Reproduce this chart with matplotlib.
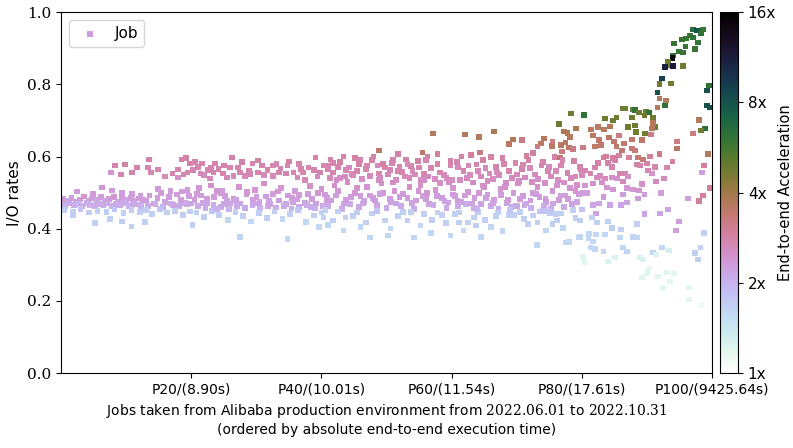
import matplotlib.pyplot as plt
from matplotlib.colors import LogNorm

plt.rcParams['font.family'] = 'DejaVu Sans'
plt.rcParams['mathtext.fontset'] = 'dejavuserif'

# x tick positions are job percentiles (ordered by end-to-end time)
tick_pos = [20, 40, 60, 80, 100]
tick_labels = ["P20/(8.90s)", "P40/(10.01s)", "P60/(11.54s)", "P80/(17.61s)", "P100/(9425.64s)"]
y_ticks = [0.0, 0.2, 0.4, 0.6, 0.8, 1.0]
cbar_ticks = [1, 2, 4, 8, 16]
cbar_labels = ["1x", "2x", "4x", "8x", "16x"]

# job percentile (x), I/O rate (y), end-to-end acceleration (colour)
job_pct = [
    0.3, 0.9, 1.6, 2.2, 2.9, 3.5, 4.2, 4.8, 5.5, 6.1,
    6.8, 7.4, 8.1, 8.7, 9.4, 10.0, 10.7, 11.3, 12.0, 12.6,
    0.1, 0.7, 1.3, 2.0, 2.6, 3.2, 3.9, 4.5, 5.2, 5.8,
    6.5, 7.1, 7.8, 8.4, 9.1, 9.7, 10.4, 11.0, 11.7, 12.3,
    0.5, 1.8, 3.0, 4.3, 5.6, 7.0, 8.2, 9.6, 10.8, 12.1,
    2.5, 4.9, 6.3, 7.8, 9.4, 10.9, 12.2, 5.2, 9.4, 10.8,
    7.7, 14.9, 16.8, 18.0, 18.6, 19.4, 12.9, 20.2, 1.8, 7.5,
    13.0, 13.6, 14.2, 14.8, 15.4, 16.0, 16.6, 17.2, 17.8, 18.4,
    19.0, 19.6, 13.3, 14.5, 15.7, 16.9, 18.1, 19.3, 13.1, 14.0,
    15.2, 16.3, 17.5, 18.7, 19.8, 8.3, 9.8, 9.2, 10.9, 11.7,
    13.5, 13.4, 13.8, 14.9, 16.0, 17.1, 18.5, 19.2, 18.0, 18.8,
    19.4, 19.8,
    # P20 - P40
    20.6, 21.7, 20.3, 21.4, 22.6, 23.7, 23.4, 24.9, 26.3, 26.0,
    27.2, 27.5, 26.5, 28.3, 29.4, 30.3, 30.9, 30.2, 31.7, 32.5,
    32.6, 33.7, 34.8, 34.5, 35.7, 36.3, 37.2, 38.0, 39.1, 38.8,
    39.8, 37.5, 25.5, 22.9, 21.0, 24.2, 28.9, 33.1, 36.9, 40.3,
    22.0, 23.0, 25.0, 27.8, 29.0, 31.2, 33.5, 35.0, 36.6, 39.4,
    20.5, 21.5, 22.5, 23.5, 24.5, 25.5, 26.5, 27.5, 28.5, 29.5,
    30.5, 31.5, 32.5, 33.5, 34.5, 35.5, 36.5, 37.5, 38.5, 39.5,
    21.0, 22.2, 23.4, 24.6, 25.8, 27.0, 28.2, 29.4, 30.6, 31.8,
    33.0, 34.2, 35.4, 36.6, 37.8, 39.0, 40.2, 40.8, 20.0, 26.0,
    21.2, 23.0, 24.8, 27.3, 29.8, 31.2, 33.8, 35.9, 38.2, 40.0,
    20.8, 22.0, 23.2, 24.3, 25.6, 26.8, 28.0, 29.2, 30.4, 31.6,
    32.8, 34.0, 35.2, 36.4, 37.6, 38.8, 40.0, 27.5, 34.8, 39.6,
    20.9, 22.4, 23.9, 25.2, 26.9, 28.6, 30.0, 31.9, 33.3, 34.9,
    36.2, 37.9, 39.2, 21.8, 25.0, 29.9, 32.1, 35.6, 38.4, 24.0,
    # P40 - P60
    40.8, 41.8, 42.8, 43.8, 44.8, 45.8, 46.8, 47.8, 48.8, 49.8,
    50.8, 51.8, 52.8, 53.8, 54.8, 55.8, 56.8, 57.8, 58.8, 59.8,
    41.3, 42.3, 43.6, 44.6, 46.2, 47.4, 49.0, 50.2, 51.4, 52.4,
    53.5, 54.4, 55.3, 56.4, 57.4, 58.2, 59.2, 60.0, 43.4, 48.0,
    51.8, 57.8, 56.3, 59.8, 41.4, 57.1, 48.8, 55.5, 45.2, 53.0,
    41.0, 42.5, 44.2, 45.5, 47.0, 49.4, 50.5, 52.0, 54.0, 55.0,
    40.5, 41.5, 42.5, 43.5, 44.5, 45.5, 46.5, 47.5, 48.5, 49.5,
    50.5, 51.5, 52.5, 53.5, 54.5, 55.5, 56.5, 57.5, 58.5, 59.5,
    41.0, 42.0, 43.2, 44.4, 45.8, 47.0, 48.2, 49.2, 50.0, 51.2,
    52.2, 53.2, 54.2, 55.2, 56.2, 57.2, 58.2, 59.2, 60.2, 46.0,
    40.3, 41.8, 43.7, 44.8, 43.4, 46.8, 47.8, 49.8, 50.6, 51.8,
    53.2, 50.2, 55.2, 56.8, 59.1, 59.8, 54.2, 47.5, 40.6, 57.8,
    42.5, 45.5, 48.5, 52.5, 55.8, 58.5, 41.0, 46.0, 53.8, 57.0,
    40.9, 42.2, 43.8, 45.1, 46.4, 47.9, 49.0, 50.7, 52.0, 53.9,
    54.9, 56.0, 57.7, 58.9, 44.0, 48.8, 51.0, 55.7, 59.6, 42.9,
    41.8, 46.0, 48.6, 51.0, 53.2, 56.0,
    # P60 - P80
    60.8, 61.8, 62.8, 63.8, 64.8, 65.8, 66.8, 67.8, 68.8, 69.8,
    70.8, 71.8, 72.8, 73.8, 74.8, 75.8, 76.8, 77.8, 78.8, 79.8,
    61.3, 62.3, 63.3, 64.5, 65.5, 66.3, 67.3, 68.3, 69.3, 70.3,
    71.3, 72.3, 73.3, 74.3, 75.3, 76.3, 77.3, 78.3, 79.3, 80.0,
    62.0, 64.2, 66.5, 69.4, 68.8, 70.8, 74.2, 73.7, 75.4, 77.2,
    77.8, 79.1, 78.2, 76.8, 77.5, 78.0, 78.6, 76.9, 76.6, 64.3,
    73.2, 75.5, 78.3, 76.5, 80.3, 61.5, 63.0, 66.0, 71.5, 72.5,
    60.5, 61.5, 62.5, 63.5, 64.5, 65.5, 66.5, 67.5, 68.5, 69.5,
    70.5, 71.5, 72.5, 73.5, 74.5, 75.5, 76.5, 77.5, 78.5, 79.5,
    61.0, 62.2, 63.4, 64.8, 66.0, 67.2, 68.2, 69.2, 70.2, 71.2,
    72.2, 73.2, 74.2, 75.2, 76.2, 77.2, 78.2, 79.2, 60.2, 65.0,
    61.1, 61.1, 62.5, 63.4, 61.8, 63.7, 64.5, 65.1, 67.1, 68.8,
    69.6, 71.1, 71.7, 73.2, 73.5, 74.5, 75.1, 75.5, 76.2, 76.8,
    77.1, 77.5, 78.0, 73.1, 79.5, 78.6, 80.0, 80.2, 80.4, 66.0,
    60.5, 64.0, 66.8, 69.0, 70.5, 72.5, 74.0, 76.0, 79.0, 67.8,
    60.9, 62.0, 63.1, 64.2, 65.3, 66.4, 67.6, 68.7, 69.9, 71.0,
    72.1, 73.0, 74.4, 75.6, 76.7, 77.9, 79.0, 63.9, 70.0, 75.0,
    61.0, 62.6, 64.0, 65.2, 67.0, 68.0, 70.0, 71.0, 72.0, 74.0,
    75.0, 76.0, 77.0, 79.0,
    # P80 - P100
    97.1, 98.6, 97.7, 96.6, 96.0, 95.4, 97.1, 97.8, 98.3, 97.4,
    95.9, 94.2, 94.9, 95.5, 94.0, 93.9, 93.2, 93.5, 92.8, 94.0,
    95.5, 92.3, 91.9, 93.7, 91.6, 92.9, 91.9, 92.8, 91.6, 99.5,
    99.2, 99.2, 99.7, 98.9, 98.3, 98.0, 97.1, 99.4, 94.6, 94.6,
    98.8, 98.5, 99.7, 98.6, 98.0, 96.3, 94.9, 94.5, 98.8, 98.2,
    97.8, 97.4, 96.5, 96.5, 98.3, 83.6, 84.8, 85.3, 86.3, 86.6,
    87.9, 88.2, 87.7, 88.8, 89.9, 90.3, 89.6, 90.9, 88.2, 87.1,
    91.2, 89.7, 88.3, 90.8, 84.3, 83.4, 82.5, 81.4, 81.7, 82.6,
    84.2, 84.9, 86.5, 87.7, 89.2, 85.3, 82.0, 82.9, 86.2, 87.7,
    88.2, 88.6, 89.4, 90.9, 90.6, 85.7, 91.9, 83.7, 83.3, 84.8,
    85.7, 87.2, 84.0, 84.6, 85.1, 82.5, 82.0, 80.5, 81.3, 82.8,
    83.6, 82.3, 85.9, 86.6, 86.3, 88.5, 88.9, 90.0, 90.5, 90.2,
    91.2, 93.1, 93.9, 92.6, 91.4, 80.2, 79.7, 80.5, 80.8, 80.2,
    81.7, 83.1, 84.6, 85.4, 87.1, 83.9, 84.8, 86.9, 87.9, 88.8,
    89.2, 86.3, 89.6, 92.2, 90.8, 83.3, 81.7, 82.6, 84.3, 86.0,
    86.9, 88.6, 82.2, 92.0, 93.2, 89.6, 79.7, 81.6, 82.3, 84.0,
    84.6, 86.0, 88.5, 81.1, 82.2, 83.6, 85.9, 87.9, 88.5, 79.7,
    81.0, 81.7, 81.3, 82.0, 83.3, 86.3, 86.9, 90.9, 92.3, 84.0,
    85.1, 88.9, 89.4, 93.4, 91.4, 90.3, 90.0, 89.2, 91.7, 93.1,
    94.2, 93.5, 92.5,
]

io_rate = [
    .483, .478, .486, .475, .481, .489, .476, .484, .479, .487,
    .477, .483, .488, .474, .482, .479, .486, .477, .484, .480,
    .467, .463, .470, .465, .468, .462, .471, .466, .464, .469,
    .465, .470, .463, .468, .466, .471, .464, .469, .467, .462,
    .452, .448, .455, .445, .450, .447, .453, .444, .451, .446,
    .503, .497, .514, .506, .500, .497, .492, .415, .420, .406,
    .556, .511, .505, .542, .503, .508, .418, .410, .437, .428,
    .478, .492, .470, .485, .498, .474, .488, .466, .495, .480,
    .472, .490, .462, .468, .460, .470, .463, .467, .452, .440,
    .455, .445, .450, .438, .448, .575, .578, .550, .556, .570,
    .592, .570, .556, .564, .545, .553, .592, .595, .564, .550,
    .556, .581,
    # P20 - P40
    .584, .581, .562, .553, .562, .581, .556, .553, .597, .570,
    .570, .556, .547, .547, .581, .589, .575, .556, .562, .575,
    .547, .567, .575, .553, .556, .542, .556, .570, .597, .562,
    .556, .534, .542, .539, .572, .566, .560, .580, .566, .575,
    .549, .570, .575, .584, .552, .548, .556, .586, .580, .545,
    .480, .492, .472, .487, .499, .476, .484, .470, .495, .481,
    .474, .489, .497, .478, .468, .486, .493, .472, .483, .500,
    .462, .458, .465, .460, .455, .463, .458, .466, .457, .462,
    .459, .464, .456, .461, .466, .458, .463, .480, .470, .470,
    .512, .520, .505, .515, .508, .525, .513, .505, .519, .510,
    .445, .432, .450, .438, .425, .447, .435, .420, .443, .430,
    .448, .426, .440, .452, .418, .437, .445, .378, .372, .405,
    .497, .484, .505, .490, .479, .502, .488, .476, .503, .492,
    .481, .497, .470, .472, .468, .470, .468, .475, .460, .455,
    # P40 - P60
    .575, .556, .585, .562, .548, .580, .566, .590, .553, .570,
    .583, .560, .545, .574, .587, .552, .568, .580, .548, .576,
    .540, .535, .545, .552, .538, .547, .541, .550, .536, .557,
    .540, .550, .535, .545, .538, .556, .541, .535, .600, .600,
    .608, .608, .600, .589, .592, .664, .617, .611, .595, .592,
    .565, .572, .570, .560, .575, .580, .562, .572, .560, .570,
    .495, .478, .505, .470, .488, .512, .476, .492, .466, .500,
    .483, .470, .497, .515, .478, .490, .468, .508, .486, .473,
    .462, .520, .455, .468, .460, .515, .478, .525, .458, .505,
    .462, .485, .455, .520, .500, .465, .526, .458, .495, .490,
    .431, .423, .431, .436, .395, .417, .442, .423, .401, .436,
    .423, .381, .409, .389, .415, .381, .376, .376, .451, .445,
    .448, .445, .450, .446, .440, .438, .410, .405, .447, .425,
    .485, .492, .480, .500, .470, .485, .497, .475, .488, .472,
    .505, .483, .490, .476, .530, .535, .528, .535, .528, .540,
    .582, .590, .575, .590, .580, .590,
    # P60 - P80
    .585, .560, .548, .578, .590, .553, .572, .595, .560, .583,
    .565, .590, .550, .575, .560, .598, .575, .555, .588, .565,
    .535, .540, .528, .545, .532, .538, .548, .527, .540, .533,
    .542, .530, .538, .526, .545, .535, .528, .540, .522, .548,
    .661, .655, .669, .647, .634, .645, .650, .636, .630, .669,
    .666, .678, .655, .631, .639, .625, .620, .614, .597, .611,
    .628, .642, .719, .691, .716, .600, .605, .598, .602, .610,
    .490, .475, .502, .485, .468, .495, .480, .510, .472, .498,
    .483, .470, .500, .488, .474, .505, .479, .492, .468, .497,
    .462, .468, .458, .520, .463, .455, .515, .460, .525, .466,
    .458, .515, .462, .455, .520, .460, .512, .475, .512, .515,
    .445, .417, .417, .431, .395, .409, .378, .425, .445, .439,
    .439, .428, .414, .417, .448, .395, .442, .414, .423, .442,
    .403, .362, .364, .354, .376, .451, .453, .321, .307, .405,
    .440, .447, .436, .452, .446, .437, .450, .440, .430, .393,
    .478, .492, .470, .500, .485, .472, .494, .480, .463, .490,
    .478, .496, .483, .470, .492, .483, .505, .455, .462, .448,
    .570, .575, .560, .568, .556, .580, .550, .578, .568, .585,
    .572, .560, .590, .545,
    # P80 - P100
    .952, .952, .949, .935, .927, .924, .930, .916, .941, .897,
    .905, .913, .891, .888, .880, .872, .861, .852, .847, .850,
    .850, .816, .800, .802, .777, .755, .761, .741, .736, .797,
    .783, .741, .736, .678, .672, .702, .664, .608, .642, .622,
    .575, .556, .512, .492, .476, .484, .420, .395, .389, .348,
    .315, .332, .237, .204, .188, .705, .700, .708, .733, .733,
    .730, .728, .708, .722, .725, .722, .714, .708, .686, .681,
    .681, .664, .667, .678, .683, .675, .681, .675, .658, .645,
    .653, .642, .636, .647, .645, .628, .628, .631, .617, .622,
    .617, .597, .592, .692, .661, .658, .608, .600, .597, .595,
    .603, .597, .583, .572, .589, .583, .570, .561, .553, .547,
    .539, .542, .553, .553, .531, .578, .575, .581, .600, .561,
    .572, .570, .586, .539, .531, .625, .572, .520, .500, .498,
    .525, .528, .542, .539, .545, .514, .509, .512, .509, .506,
    .523, .495, .495, .498, .553, .487, .465, .470, .465, .465,
    .473, .484, .442, .442, .453, .440, .423, .431, .417, .420,
    .403, .398, .414, .387, .384, .384, .376, .378, .376, .378,
    .373, .365, .348, .343, .337, .348, .337, .334, .348, .309,
    .320, .320, .315, .340, .329, .290, .276, .265, .268, .279,
    .276, .254, .235,
]

speedup = [
    2.3, 2.2, 2.3, 2.2, 2.3, 2.4, 2.2, 2.3, 2.2, 2.3,
    2.2, 2.3, 2.4, 2.2, 2.3, 2.2, 2.3, 2.2, 2.3, 2.3,
    2.1, 2.0, 2.1, 2.1, 2.0, 2.1, 2.1, 2.0, 2.1, 2.1,
    2.1, 2.1, 2.0, 2.1, 2.1, 2.1, 2.0, 2.1, 2.1, 2.0,
    1.7, 1.7, 1.8, 1.7, 1.7, 1.7, 1.8, 1.7, 1.7, 1.7,
    2.3, 2.3, 2.4, 2.3, 2.3, 2.3, 2.3, 1.7, 1.7, 1.7,
    2.4, 2.3, 2.3, 2.5, 2.3, 2.3, 1.7, 1.7, 1.7, 1.7,
    2.3, 2.3, 2.2, 2.3, 2.3, 2.2, 2.3, 2.2, 2.3, 2.3,
    2.2, 2.3, 2.1, 2.1, 2.0, 2.1, 2.1, 2.1, 1.7, 1.7,
    1.8, 1.7, 1.7, 1.7, 1.7, 2.75, 2.85, 2.75, 2.75, 2.85,
    2.85, 2.75, 2.75, 2.75, 2.65, 2.75, 2.85, 2.85, 2.75, 2.75,
    2.75, 2.85,
    # P20 - P40
    2.75, 2.75, 2.75, 2.65, 2.75, 2.75, 2.75, 2.75, 2.85, 2.75,
    2.75, 2.75, 2.65, 2.65, 2.75, 2.85, 2.75, 2.75, 2.75, 2.75,
    2.65, 2.75, 2.75, 2.75, 2.75, 2.65, 2.75, 2.75, 2.85, 2.75,
    2.75, 2.65, 2.65, 2.65, 2.75, 2.75, 2.75, 2.75, 2.75, 2.75,
    2.65, 2.75, 2.75, 2.85, 2.75, 2.65, 2.75, 2.85, 2.75, 2.65,
    2.3, 2.3, 2.2, 2.3, 2.4, 2.2, 2.3, 2.2, 2.3, 2.3,
    2.2, 2.3, 2.3, 2.3, 2.2, 2.3, 2.3, 2.2, 2.3, 2.4,
    2.1, 2.1, 2.1, 2.1, 2.0, 2.1, 2.1, 2.1, 2.0, 2.1,
    2.1, 2.1, 2.0, 2.1, 2.1, 2.0, 2.1, 2.3, 2.2, 2.2,
    2.4, 2.5, 2.3, 2.4, 2.4, 2.5, 2.4, 2.3, 2.5, 2.4,
    1.7, 1.7, 1.8, 1.7, 1.6, 1.7, 1.7, 1.6, 1.7, 1.7,
    1.7, 1.6, 1.7, 1.8, 1.6, 1.7, 1.7, 1.6, 1.6, 1.6,
    2.3, 2.3, 2.4, 2.3, 2.2, 2.4, 2.3, 2.2, 2.4, 2.3,
    2.3, 2.3, 2.2, 2.2, 2.2, 2.2, 2.2, 2.2, 2.1, 2.0,
    # P40 - P60
    2.75, 2.75, 2.85, 2.75, 2.65, 2.85, 2.75, 2.85, 2.75, 2.75,
    2.75, 2.75, 2.65, 2.75, 2.85, 2.75, 2.75, 2.85, 2.65, 2.75,
    2.65, 2.55, 2.65, 2.65, 2.55, 2.65, 2.65, 2.65, 2.55, 2.75,
    2.65, 2.65, 2.55, 2.65, 2.55, 2.75, 2.65, 2.55, 2.85, 2.85,
    2.85, 2.95, 2.85, 2.85, 2.85, 3.7, 3.5, 3.5, 2.85, 2.85,
    2.75, 2.75, 2.65, 2.75, 2.75, 2.85, 2.75, 2.75, 2.65, 2.75,
    2.3, 2.3, 2.4, 2.2, 2.3, 2.5, 2.2, 2.3, 2.2, 2.4,
    2.3, 2.2, 2.3, 2.5, 2.3, 2.3, 2.2, 2.4, 2.3, 2.2,
    2.1, 2.5, 2.1, 2.1, 2.1, 2.4, 2.3, 2.5, 2.1, 2.4,
    2.1, 2.3, 2.1, 2.5, 2.4, 2.1, 2.5, 2.1, 2.3, 2.3,
    1.7, 1.7, 1.7, 1.7, 1.6, 1.7, 1.7, 1.7, 1.6, 1.7,
    1.7, 1.6, 1.6, 1.6, 1.7, 1.6, 1.6, 1.6, 1.7, 1.7,
    1.7, 1.7, 1.8, 1.7, 1.7, 1.7, 1.6, 1.6, 1.7, 1.7,
    2.3, 2.3, 2.3, 2.4, 2.2, 2.3, 2.3, 2.2, 2.3, 2.2,
    2.4, 2.3, 2.3, 2.2, 2.55, 2.55, 2.55, 2.55, 2.55, 2.55,
    2.75, 2.75, 2.65, 2.75, 2.65, 2.75,
    # P60 - P80
    2.75, 2.75, 2.65, 2.75, 2.85, 2.65, 2.75, 2.85, 2.75, 2.75,
    2.75, 2.85, 2.65, 2.75, 2.75, 2.85, 2.75, 2.75, 2.85, 2.75,
    2.55, 2.65, 2.55, 2.65, 2.55, 2.55, 2.65, 2.55, 2.65, 2.55,
    2.65, 2.55, 2.55, 2.55, 2.65, 2.55, 2.55, 2.65, 2.5, 2.65,
    3.7, 3.7, 3.8, 3.7, 3.6, 3.2, 3.7, 3.6, 3.6, 3.8,
    3.8, 3.8, 3.7, 3.6, 3.6, 3.6, 3.2, 3.2, 3.5, 3.2,
    3.2, 3.2, 4.8, 4.8, 6.2, 2.85, 2.95, 2.85, 2.95, 2.95,
    2.3, 2.2, 2.4, 2.3, 2.2, 2.3, 2.3, 2.4, 2.2, 2.3,
    2.3, 2.2, 2.3, 2.3, 2.2, 2.4, 2.3, 2.3, 2.2, 2.3,
    2.1, 2.1, 2.1, 2.5, 2.1, 2.0, 2.5, 2.1, 2.5, 2.1,
    2.0, 2.5, 2.1, 2.0, 2.5, 2.1, 2.4, 2.2, 2.4, 2.5,
    1.7, 1.7, 1.7, 1.7, 1.6, 1.7, 1.6, 1.7, 1.7, 1.7,
    1.7, 1.7, 1.7, 1.7, 1.8, 1.6, 1.7, 1.7, 1.7, 1.7,
    1.6, 1.6, 1.6, 1.6, 1.6, 1.7, 1.8, 1.2, 1.2, 1.6,
    1.7, 1.7, 1.7, 1.8, 1.7, 1.7, 1.8, 1.7, 1.7, 1.6,
    2.3, 2.3, 2.2, 2.4, 2.3, 2.2, 2.3, 2.3, 2.1, 2.3,
    2.3, 2.3, 2.3, 2.2, 2.3, 2.3, 2.4, 2.0, 2.1, 1.8,
    2.65, 2.65, 2.65, 2.65, 2.65, 2.75, 2.65, 2.75, 2.65, 2.75,
    2.65, 2.65, 2.75, 2.65,
    # P80 - P100
    6.5, 6.0, 8.0, 6.0, 6.0, 6.0, 6.2, 6.0, 6.2, 6.0,
    6.0, 6.0, 6.0, 6.0, 6.2, 15.0, 4.8, 4.8, 11.0, 11.5,
    4.8, 9.0, 4.8, 4.8, 8.0, 3.7, 3.7, 6.2, 3.7, 6.2,
    8.0, 8.0, 8.0, 6.2, 4.8, 3.7, 3.2, 3.7, 3.2, 3.6,
    2.95, 2.3, 2.95, 2.95, 2.95, 2.3, 2.3, 2.3, 1.7, 1.7,
    1.7, 1.7, 1.2, 1.2, 1.1, 4.8, 4.8, 4.8, 4.8, 4.8,
    4.8, 6.2, 4.8, 4.8, 4.8, 6.2, 4.8, 4.8, 4.8, 4.8,
    4.8, 4.8, 4.8, 3.7, 3.7, 3.6, 3.6, 3.6, 3.6, 3.5,
    3.6, 3.5, 3.5, 3.5, 3.5, 3.5, 3.5, 3.5, 3.4, 3.4,
    3.4, 3.4, 3.4, 3.7, 3.2, 3.2, 3.2, 2.95, 2.95, 2.95,
    2.95, 2.95, 2.85, 2.75, 2.85, 2.85, 2.75, 2.75, 2.75, 2.65,
    2.65, 2.65, 2.75, 2.75, 2.65, 2.85, 2.85, 2.85, 2.95, 2.75,
    2.75, 2.75, 2.85, 2.65, 2.65, 3.2, 2.75, 2.4, 2.3, 2.3,
    2.5, 2.5, 2.5, 2.5, 2.5, 2.4, 2.4, 2.4, 2.4, 2.4,
    2.5, 2.3, 2.3, 2.3, 2.5, 2.3, 2.2, 2.2, 2.2, 2.2,
    2.2, 2.3, 2.2, 2.2, 2.2, 2.2, 1.7, 1.7, 1.7, 1.7,
    1.7, 1.7, 1.7, 1.6, 1.6, 1.6, 1.6, 1.6, 1.6, 1.6,
    1.6, 1.6, 1.6, 1.6, 1.6, 1.6, 1.6, 1.6, 1.6, 1.25,
    1.25, 1.25, 1.25, 1.3, 1.25, 1.2, 1.2, 1.2, 1.2, 1.2,
    1.2, 1.2, 1.2,
]

print(len(job_pct), len(io_rate), len(speedup))

fig = plt.figure(figsize=(7.93, 4.48), dpi=100)
ax = fig.add_axes([0.077, 0.167, 0.821, 0.806])
cax = fig.add_axes([0.908, 0.167, 0.0227, 0.806])

sc = ax.scatter(job_pct, io_rate, c=speedup, cmap='cubehelix_r',
                norm=LogNorm(vmin=1, vmax=16), marker='s', s=17,
                linewidths=0, label='Job')

ax.set_xlim(0, 100)
ax.set_ylim(0, 1)
ax.set_xticks(tick_pos)
ax.set_xticklabels(tick_labels, fontsize=10)
ax.set_yticks(y_ticks)
ax.set_yticklabels([f"{v:.1f}" for v in y_ticks], family='DejaVu Serif', fontsize=11)
ax.set_ylabel("I/O rates", fontsize=11)
ax.set_xlabel("Jobs taken from Alibaba production environment from "
              r"$\mathrm{2022.06.01}$ to $\mathrm{2022.10.31}$" "\n"
              "(ordered by absolute end-to-end execution time)", fontsize=10)
ax.legend(loc='upper left', fontsize=11, handletextpad=0.6)

cb = fig.colorbar(sc, cax=cax)
cb.set_ticks(cbar_ticks)
cb.set_ticklabels(cbar_labels)
cb.ax.minorticks_off()
cb.ax.tick_params(labelsize=11)
cb.set_label("End-to-end Acceleration", fontsize=10.5, labelpad=1)

fig.savefig("out.png", dpi=100)
